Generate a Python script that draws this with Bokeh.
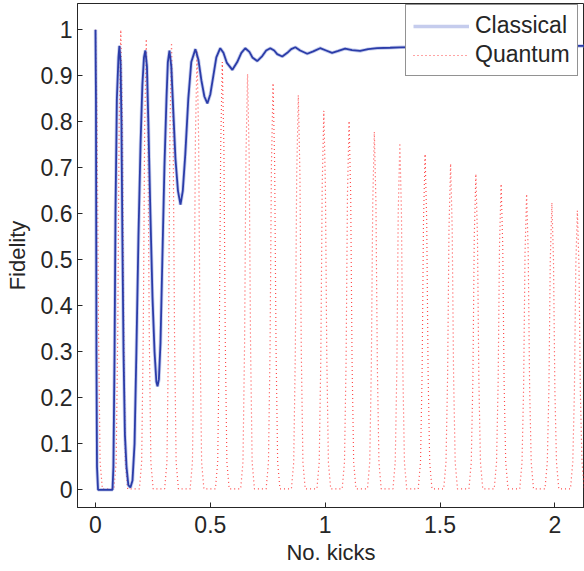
from bokeh.plotting import figure
from bokeh.models import Range1d, FixedTicker, Legend, LegendItem, ColumnDataSource
from bokeh.embed import file_html
from bokeh.resources import INLINE

# ---- data ----
# Classical fidelity: (No. kicks, fidelity)
classical_pts = [
    (0.0, 1.0), (0.002, 0.85), (0.004, 0.3), (0.0065, 0.05), (0.011, 0.0),
    (0.074, 0.0), (0.078, 0.05), (0.083, 0.3), (0.087, 0.6), (0.093, 0.85),
    (0.1, 0.94), (0.104, 0.965), (0.109, 0.93), (0.113, 0.8), (0.117, 0.55),
    (0.122, 0.3), (0.128, 0.12), (0.135, 0.05), (0.143, 0.01), (0.152, 0.005),
    (0.161, 0.02), (0.17, 0.1), (0.178, 0.3), (0.187, 0.55), (0.196, 0.75),
    (0.204, 0.88), (0.211, 0.94), (0.217, 0.955), (0.224, 0.92), (0.23, 0.8),
    (0.239, 0.6), (0.248, 0.42), (0.257, 0.3), (0.265, 0.235), (0.27, 0.225),
    (0.276, 0.24), (0.283, 0.32), (0.291, 0.5), (0.3, 0.7), (0.309, 0.85),
    (0.315, 0.93), (0.322, 0.955), (0.33, 0.92), (0.339, 0.82), (0.348, 0.72),
    (0.359, 0.65), (0.37, 0.62), (0.38, 0.65), (0.391, 0.73), (0.404, 0.85),
    (0.417, 0.93), (0.435, 0.958), (0.448, 0.935), (0.461, 0.89), (0.474, 0.855),
    (0.487, 0.84), (0.5, 0.86), (0.513, 0.9), (0.526, 0.94), (0.543, 0.96),
    (0.557, 0.95), (0.572, 0.928), (0.596, 0.913), (0.617, 0.93), (0.635, 0.95),
    (0.652, 0.96), (0.67, 0.952), (0.683, 0.94), (0.704, 0.932), (0.726, 0.943),
    (0.743, 0.955), (0.761, 0.96), (0.778, 0.955), (0.791, 0.947), (0.813, 0.942),
    (0.835, 0.95), (0.852, 0.958), (0.87, 0.962), (0.891, 0.955), (0.922, 0.948),
    (0.948, 0.953), (0.978, 0.96), (1.004, 0.955), (1.03, 0.95), (1.057, 0.954),
    (1.087, 0.959), (1.117, 0.956), (1.152, 0.954), (1.187, 0.958), (1.226, 0.96),
    (1.283, 0.961), (1.326, 0.962), (1.457, 0.963), (1.63, 0.963), (1.848, 0.964),
    (2.13, 0.965),
]

# Quantum fidelity: periodic revivals (No. kicks, fidelity)
quantum_pts = [
    (0.0, 1.0), (0.007, 0.8), (0.013, 0.35), (0.02, 0.06), (0.03, 0.002),
    (0.080, 0.002), (0.090, 0.06), (0.097, 0.35), (0.103, 0.8), (0.110, 1.0), (0.117, 0.8), (0.123, 0.35), (0.130, 0.06), (0.140, 0.002),
    (0.191, 0.002), (0.201, 0.06), (0.208, 0.343), (0.214, 0.784), (0.221, 0.98), (0.228, 0.784), (0.234, 0.343), (0.241, 0.06), (0.251, 0.002),
    (0.301, 0.002), (0.311, 0.06), (0.318, 0.340), (0.324, 0.778), (0.331, 0.972), (0.338, 0.778), (0.344, 0.340), (0.351, 0.06), (0.361, 0.002),
    (0.412, 0.002), (0.422, 0.06), (0.429, 0.334), (0.435, 0.764), (0.442, 0.955), (0.449, 0.764), (0.455, 0.334), (0.462, 0.06), (0.472, 0.002),
    (0.522, 0.002), (0.532, 0.06), (0.539, 0.326), (0.545, 0.744), (0.552, 0.93), (0.559, 0.744), (0.565, 0.326), (0.572, 0.06), (0.582, 0.002),
    (0.632, 0.002), (0.642, 0.06), (0.649, 0.316), (0.655, 0.723), (0.662, 0.904), (0.669, 0.723), (0.675, 0.316), (0.682, 0.06), (0.692, 0.002),
    (0.743, 0.002), (0.753, 0.06), (0.760, 0.309), (0.766, 0.707), (0.773, 0.884), (0.780, 0.707), (0.786, 0.309), (0.793, 0.06), (0.803, 0.002),
    (0.853, 0.002), (0.863, 0.06), (0.870, 0.300), (0.876, 0.686), (0.883, 0.858), (0.890, 0.686), (0.896, 0.300), (0.903, 0.06), (0.913, 0.002),
    (0.964, 0.002), (0.974, 0.06), (0.981, 0.288), (0.987, 0.659), (0.994, 0.824), (1.001, 0.659), (1.007, 0.288), (1.014, 0.06), (1.024, 0.002),
    (1.074, 0.002), (1.084, 0.06), (1.091, 0.281), (1.097, 0.642), (1.104, 0.802), (1.111, 0.642), (1.117, 0.281), (1.124, 0.06), (1.134, 0.002),
    (1.184, 0.002), (1.194, 0.06), (1.201, 0.272), (1.207, 0.622), (1.214, 0.778), (1.221, 0.622), (1.227, 0.272), (1.234, 0.06), (1.244, 0.002),
    (1.295, 0.002), (1.305, 0.06), (1.312, 0.264), (1.318, 0.603), (1.325, 0.754), (1.332, 0.603), (1.338, 0.264), (1.345, 0.06), (1.355, 0.002),
    (1.405, 0.002), (1.415, 0.06), (1.422, 0.256), (1.428, 0.584), (1.435, 0.73), (1.442, 0.584), (1.448, 0.256), (1.455, 0.06), (1.465, 0.002),
    (1.516, 0.002), (1.526, 0.06), (1.533, 0.248), (1.539, 0.567), (1.546, 0.709), (1.553, 0.567), (1.559, 0.248), (1.566, 0.06), (1.576, 0.002),
    (1.626, 0.002), (1.636, 0.06), (1.643, 0.240), (1.649, 0.550), (1.656, 0.687), (1.663, 0.550), (1.669, 0.240), (1.676, 0.06), (1.686, 0.002),
    (1.736, 0.002), (1.746, 0.06), (1.753, 0.233), (1.759, 0.532), (1.766, 0.665), (1.773, 0.532), (1.779, 0.233), (1.786, 0.06), (1.796, 0.002),
    (1.847, 0.002), (1.857, 0.06), (1.864, 0.225), (1.870, 0.514), (1.877, 0.643), (1.884, 0.514), (1.890, 0.225), (1.897, 0.06), (1.907, 0.002),
    (1.957, 0.002), (1.967, 0.06), (1.974, 0.218), (1.980, 0.499), (1.987, 0.624), (1.994, 0.499), (2.000, 0.218), (2.007, 0.06), (2.017, 0.002),
    (2.068, 0.002), (2.078, 0.06), (2.085, 0.212), (2.091, 0.486), (2.098, 0.607), (2.105, 0.486), (2.111, 0.212), (2.118, 0.06), (2.128, 0.002),
]

x_ticks = [0, 0.5, 1, 1.5, 2]
x_tick_labels = ["0", "0.5", "1", "1.5", "2"]
y_ticks = [0, 0.1, 0.2, 0.3, 0.4, 0.5, 0.6, 0.7, 0.8, 0.9, 1]
y_tick_labels = ["0", "0.1", "0.2", "0.3", "0.4", "0.5", "0.6", "0.7", "0.8", "0.9", "1"]
series_names = ["Classical", "Quantum"]

FONT = "Liberation Sans"
TXT = "#262626"

classical = ColumnDataSource(dict(x=[a for a, _ in classical_pts], y=[b for _, b in classical_pts]))
quantum = ColumnDataSource(dict(x=[a for a, _ in quantum_pts], y=[b for _, b in quantum_pts]))

p = figure(width=584, height=571,
           x_range=Range1d(-0.0784, 2.129), y_range=Range1d(-0.0385, 1.0572),
           output_backend="svg", toolbar_location=None,
           min_border_left=77, min_border_right=0, min_border_top=3, min_border_bottom=64)
p.background_fill_color = "white"
p.border_fill_color = "white"
p.outline_line_color = TXT
p.xgrid.visible = False
p.ygrid.visible = False

q = p.line("x", "y", source=quantum, line_color="#ff2a2a", line_width=1.2, line_dash="1 3", line_alpha=0.85)
halo = p.line("x", "y", source=classical, line_color="#7f8fd6", line_width=3.5, line_alpha=0.45)
core = p.line("x", "y", source=classical, line_color="#2b3ca8", line_width=1.8)

for ax, ticks, labels in ((p.xaxis[0], x_ticks, x_tick_labels), (p.yaxis[0], y_ticks, y_tick_labels)):
    ax.ticker = FixedTicker(ticks=ticks)
    ax.major_label_overrides = {float(t): l for t, l in zip(ticks, labels)}
    ax.minor_tick_line_color = None
    ax.major_tick_in = 5
    ax.major_tick_out = 0
    ax.axis_line_color = TXT
    ax.major_tick_line_color = TXT
    ax.major_label_text_font = FONT
    ax.major_label_text_font_size = "23px"
    ax.major_label_text_color = TXT
    ax.axis_label_text_font = FONT
    ax.axis_label_text_font_size = "22px"
    ax.axis_label_text_font_style = "normal"
    ax.axis_label_text_color = TXT

p.xaxis.axis_label = "No. kicks"
p.yaxis.axis_label = "Fidelity"
p.xaxis.major_label_standoff = 8
p.xaxis.axis_label_standoff = 4
p.yaxis.major_label_standoff = 5
p.yaxis.axis_label_standoff = 8

legend = Legend(items=[LegendItem(label=series_names[0], renderers=[halo]),
                       LegendItem(label=series_names[1], renderers=[q])],
                location=(328, 431))
legend.border_line_color = TXT
legend.border_line_width = 1
legend.background_fill_color = "white"
legend.background_fill_alpha = 1
legend.label_text_font = FONT
legend.label_text_font_size = "23px"
legend.label_text_color = TXT
legend.padding = 7
legend.spacing = 2
legend.margin = 0
legend.glyph_width = 56
legend.glyph_height = 24
legend.label_height = 24
legend.label_width = 90
legend.label_standoff = 6
p.add_layout(legend, "center")

open("out.html", "w").write(file_html(p, INLINE))
